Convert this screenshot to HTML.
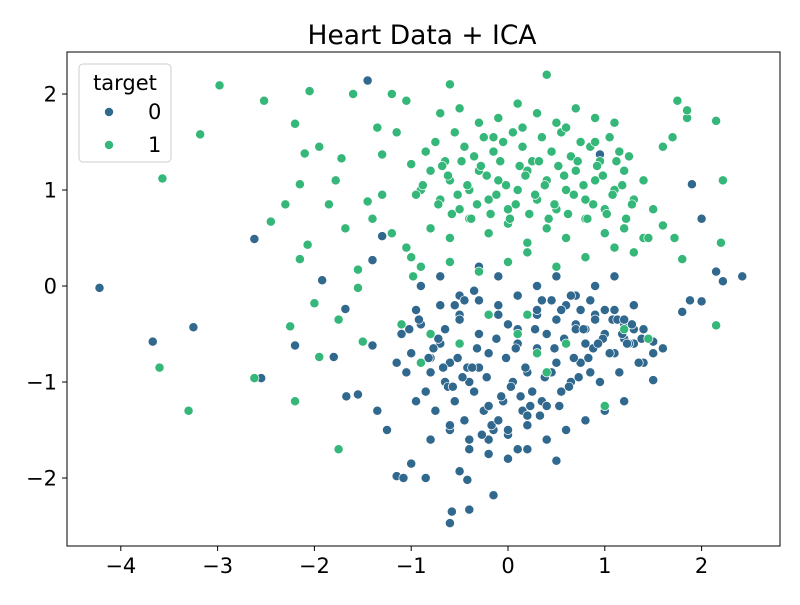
<!DOCTYPE html>
<html><head><meta charset="utf-8"><style>
body{margin:0;background:#fff;font-family:"Liberation Sans","DejaVu Sans",sans-serif}
svg text{font-family:"DejaVu Sans","Liberation Sans",sans-serif}
</style></head><body>
<svg id="chart" width="800" height="600" viewBox="0 0 800 600" xmlns="http://www.w3.org/2000/svg">
<rect width="800" height="600" fill="#fff"/>
<text x="422" y="44" font-size="26.5" text-anchor="middle">Heart Data + ICA</text>
<g id="points"></g>
<rect x="67" y="52" width="713" height="494" fill="none" stroke="#000" stroke-width="1"/>
<g id="axes"></g>
<g>
<rect x="79" y="64" width="92" height="98" rx="4" fill="#fff" fill-opacity="0.8" stroke="#ccc"/>
<text x="125" y="90" font-size="21" text-anchor="middle">target</text>
<circle cx="109" cy="112" r="4.5" fill="#31688e" stroke="#fff" stroke-width="0.6"/>
<text x="148" y="119" font-size="21">0</text>
<circle cx="109" cy="145" r="4.5" fill="#35b779" stroke="#fff" stroke-width="0.6"/>
<text x="148" y="152" font-size="21">1</text>
</g>
</svg>
<script>
const xTicks=[-4,-3,-2,-1,0,1,2];
const yTicks=[-2,-1,0,1,2];
const class0X=[-4.22,-3.67,-3.25,-2.55,-2.62,-2.2,-1.92,-1.8,-1.68,-1.67,-1.55,-1.4,-1.4,-1.3,-1.35,-1.25,-1.15,-1.08,-1.0,-0.85,-0.58,-0.6,-0.4,-0.5,-0.42,-0.15,1.9,2.0,2.42,2.22,2.15,2.0,1.88,1.8,1.5,1.6,1.5,-1.45,0.95,0.5,
-1.1,-1.0,-0.9,-0.8,-0.7,-0.6,-0.5,-0.4,-0.3,-0.2,-0.1,0,0.1,0.2,0.3,0.4,0.5,0.6,0.7,0.8,0.9,1.0,1.1,1.2,1.3,1.4,
-1.05,-0.95,-0.85,-0.75,-0.65,-0.55,-0.45,-0.35,-0.25,-0.15,-0.05,0.05,0.15,0.25,0.35,0.45,0.55,0.65,0.75,0.85,0.95,1.05,1.15,1.25,1.35,
-0.9,-0.7,-0.5,-0.3,-0.1,0.1,0.3,0.5,0.7,0.9,1.1,1.3,
-0.8,-0.6,-0.4,-0.2,0,0.2,0.4,0.6,0.8,1.0,1.2,
-0.7,-0.5,-0.3,-0.1,0.1,0.3,0.5,0.7,
-0.6,-0.4,-0.2,0,0.2,0.4,0.9,1.1,1.3,1.5,1.2,0.8,0.3,-0.3,-0.8,
-0.02,0.08,0.18,-0.12,-0.22,0.28,0.38,0.48,0.58,0.68,0.78,0.88,0.98,1.08,1.18,1.28,1.38,-0.32,-0.42,-0.52,-0.62,-0.72,-0.82,-0.92,-1.02,
0.03,0.13,0.23,0.33,-0.07,-0.17,-0.27,0.53,0.63,0.73,0.83,0.93,1.13,1.23,-0.37,-0.47,-0.57,-0.67,-0.77,
0.0,0.1,-0.1,0.2,-0.2,0.35,-0.35,0.45,0.55,0.65,-0.45,-0.55,0.75,0.85,1.0,1.2,1.4,-0.65,-0.95,-1.15];
const class0Y=[-0.02,-0.58,-0.43,-0.96,0.49,-0.62,0.06,-0.74,-0.24,-1.15,-1.13,-0.62,0.27,0.52,-1.3,-1.5,-1.98,-2.0,-1.85,-2.0,-2.35,-2.47,-2.33,-1.93,-2.02,-2.18,1.06,0.7,0.1,0.05,0.15,-0.16,-0.15,-0.27,-0.58,-0.65,-0.98,2.14,1.37,-1.82,
-0.5,-0.7,-0.4,-0.9,-0.6,-0.8,-0.3,-1.0,-0.5,-0.7,-0.2,-0.4,-0.6,-0.9,-0.3,-0.5,-0.8,-0.2,-0.4,-0.6,-0.3,-0.5,-0.7,-0.4,-0.6,-0.8,
-0.9,-1.2,-1.1,-1.3,-1.0,-1.2,-1.4,-1.1,-1.3,-1.5,-1.2,-1.0,-1.3,-1.1,-1.2,-0.9,-1.1,-1.0,-0.8,-0.9,-1.0,-0.7,-0.9,-0.6,-0.8,
0.0,0.1,-0.1,0.2,0.1,-0.1,0.0,0.1,-0.1,0.0,0.1,-0.2,
-1.6,-1.5,-1.7,-1.6,-1.8,-1.7,-1.6,-1.5,-1.4,-1.3,-1.2,
-0.2,-0.35,-0.15,-0.3,-0.45,-0.25,-0.35,-0.45,
-1.45,-1.6,-1.75,-1.55,-1.45,-1.25,-0.35,-0.25,-0.45,-0.7,-0.55,-0.45,-0.65,-0.85,-0.75,
-0.75,-0.65,-0.85,-0.55,-0.95,-0.45,-0.95,-0.65,-0.55,-0.75,-0.45,-0.65,-0.55,-0.35,-0.5,-0.4,-0.55,-0.65,-0.85,-0.75,-1.05,-0.55,-0.75,-0.35,-0.45,
-1.05,-1.15,-1.25,-1.35,-1.15,-1.45,-1.55,-1.25,-1.05,-0.95,-0.75,-0.6,-0.35,-0.6,-0.85,-0.95,-1.05,-0.85,-0.65,
-1.5,-1.7,-1.4,-1.35,-1.25,-0.15,-0.05,-0.15,-0.25,-0.1,-0.15,-0.2,-0.25,-0.15,-0.25,-0.35,-0.45,-0.45,-0.25,-0.8];
const class1X=[-3.57,-3.18,-2.98,-3.6,-3.3,-2.62,-2.52,-2.45,-2.3,-2.2,-2.15,-2.1,-2.05,-2.15,-2.07,-2.0,-2.25,-2.2,-1.95,-1.95,-1.85,-1.78,-1.72,-1.68,-1.6,-1.75,-1.75,-1.55,-1.55,-1.5,-1.45,-1.4,-1.35,-1.3,-1.3,-1.2,-1.15,-1.05,-1.0,2.15,2.2,2.22,2.15,1.85,1.85,1.75,1.8,1.72,1.6,1.5,0.4,-0.6,
-0.9,-0.8,-0.7,-0.6,-0.5,-0.4,-0.3,-0.2,-0.1,0,0.1,0.2,0.3,0.4,0.5,0.6,0.7,0.8,0.9,1.0,1.1,1.2,1.3,1.4,
-0.85,-0.75,-0.65,-0.55,-0.45,-0.35,-0.25,-0.15,-0.05,0.05,0.15,0.25,0.35,0.45,0.55,0.65,0.75,0.85,0.95,1.05,1.15,1.25,
-0.8,-0.6,-0.4,-0.2,0,0.2,0.4,0.6,0.8,1.0,1.2,1.4,
-0.7,-0.5,-0.3,-0.1,0.1,0.3,0.5,0.7,0.9,1.1,
-1.0,-0.9,-0.6,-0.3,0,0.2,0.5,0.8,1.1,1.3,
-1.1,-0.8,-0.5,-0.2,0.1,0.3,0.6,1.2,1.45,0.4,-0.9,1.0,0.2,
-0.95,-0.88,-0.72,-0.62,-0.52,-0.42,-0.32,-0.22,-0.12,-0.02,0.08,0.18,0.28,0.38,0.48,0.58,0.68,0.78,0.88,0.98,1.08,1.18,1.28,
-0.68,-0.48,-0.28,-0.08,0.12,0.32,0.52,0.72,0.92,1.12,
-0.58,-0.38,-0.18,0.02,0.22,0.42,0.62,0.82,1.02,1.22,
-1.2,-1.05,-0.98,1.6,1.7,1.45,0.9,0.6,0.15,-0.15];
const class1Y=[1.12,1.58,2.09,-0.85,-1.3,-0.96,1.93,0.67,0.85,1.69,1.06,1.38,2.03,0.28,0.43,-0.18,-0.42,-1.2,-0.74,1.45,0.85,1.1,1.33,0.6,2.0,-0.35,-1.7,0.17,-0.02,-0.58,0.88,0.7,1.65,1.37,0.95,2.0,1.6,1.93,1.27,1.72,0.45,1.1,-0.41,1.75,1.83,1.93,0.28,0.5,0.63,0.8,2.2,2.1,
1.0,1.2,0.9,1.1,0.8,1.0,1.2,0.9,1.1,0.8,1.0,1.2,0.9,1.1,0.8,1.0,1.2,0.9,1.1,0.8,1.0,1.2,0.9,1.1,
1.4,1.5,1.3,1.6,1.45,1.35,1.55,1.4,1.5,1.6,1.45,1.3,1.55,1.4,1.6,1.35,1.5,1.45,1.3,1.55,1.4,1.35,
0.6,0.5,0.7,0.55,0.65,0.45,0.6,0.5,0.7,0.55,0.6,0.5,
1.8,1.85,1.7,1.75,1.9,1.8,1.7,1.85,1.75,1.7,
0.3,0.2,0.25,0.15,0.25,0.35,0.2,0.3,0.4,0.35,
-0.4,-0.5,-0.6,-0.3,-0.5,-0.7,-0.6,-0.45,-0.55,-0.9,-0.8,-1.25,-0.3,
0.95,1.05,0.85,1.15,0.95,1.05,0.85,1.15,0.95,1.05,0.85,1.15,0.95,1.05,0.85,1.15,0.95,1.05,0.85,1.15,0.95,1.05,0.85,
1.25,1.3,1.25,1.3,1.25,1.3,1.25,1.3,1.25,1.3,
0.75,0.7,0.75,0.7,0.75,0.7,0.75,0.7,0.75,0.7,
0.55,0.4,0.1,1.45,1.55,0.5,1.5,1.65,1.65,1.55];
const sx=v=>508+96.8*v, sy=v=>286-96*v;
const NS='http://www.w3.org/2000/svg';
const ax=document.getElementById('axes');
function mk(t,a){const e=document.createElementNS(NS,t);for(const k in a)e.setAttribute(k,a[k]);return e;}
xTicks.forEach(v=>{
 const l=mk('line',{x1:sx(v),x2:sx(v),y1:546,y2:551,stroke:'#000'});
 
 
 ax.appendChild(l);
 const t=mk('text',{x:sx(v),y:573,'font-size':21,'text-anchor':'middle'});
 t.textContent=v<0?'\u2212'+(-v):String(v);
 
 
 ax.appendChild(t);
});
yTicks.forEach(v=>{
 const l=mk('line',{x1:62,x2:67,y1:sy(v),y2:sy(v),stroke:'#000'});
 
 
 ax.appendChild(l);
 const t=mk('text',{x:57,y:sy(v)+7.5,'font-size':21,'text-anchor':'end'});
 t.textContent=v<0?'\u2212'+(-v):String(v);
 
 
 ax.appendChild(t);
});
const pg=document.getElementById('points');
function draw(X,Y,col,name){
 for(let i=0;i<Math.min(X.length,Y.length);i++){
  const c=mk('circle',{cx:sx(X[i]),cy:sy(Y[i]),r:4.6,fill:col,stroke:'#fff','stroke-width':0.7});
  
  
  pg.appendChild(c);
 }
}
draw(class0X,class0Y,'#31688e','point-target-0');
draw(class1X,class1Y,'#35b779','point-target-1');
</script>
</body></html>
